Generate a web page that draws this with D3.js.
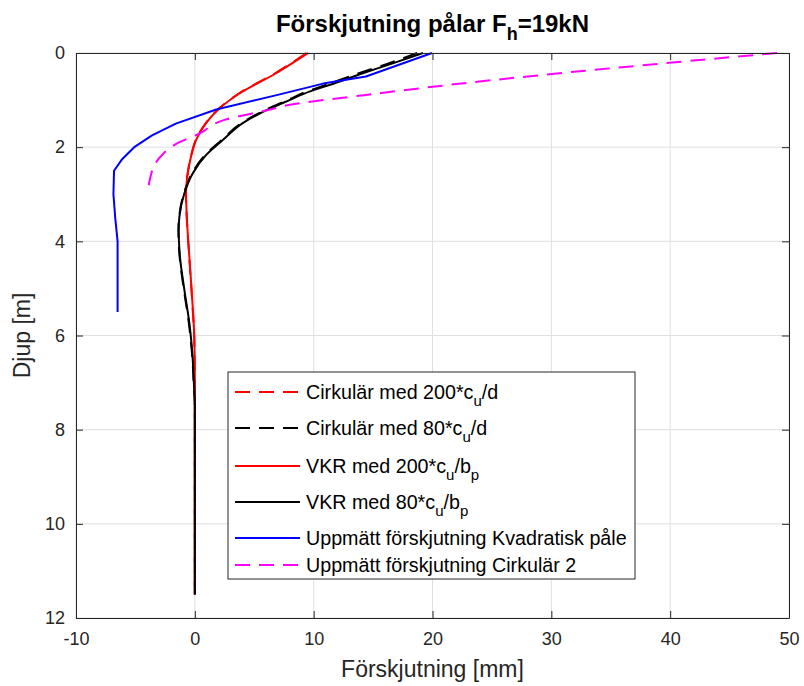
<!DOCTYPE html>
<html>
<head>
<meta charset="utf-8">
<script src="https://cdn.jsdelivr.net/npm/d3@7"></script>
<style>
  body { margin: 0; background: #fff; }
  svg { font-family: "Liberation Sans", Arial, sans-serif; }
</style>
</head>
<body>
<script>
'use strict';

// depth [m] and displacement [mm]
const redDashDepth = [0, 0.2, 0.43, 0.86, 1.18, 1.49, 1.85, 2.2, 2.56, 2.98, 3.55, 4.33, 5.39, 6.06, 7.0, 7.5, 8.5, 9.5, 10.5, 11.5];
const redDashX     = [9.4, 8.2, 6.75, 3.7, 2.02, 0.92, 0.08, -0.33, -0.61, -0.75, -0.67, -0.47, -0.19, -0.05, 0, 0, 0, 0, 0, 0];

const blackDashDepth = [0, 0.22, 0.43, 0.68, 0.82, 1.0, 1.22, 1.49, 1.85, 2.17, 2.56, 2.98, 3.48, 3.76, 4.33, 5.03, 5.74, 6.06, 6.5, 7.0, 7.5, 8.5, 9.5, 10.5, 11.5];
const blackDashX     = [18.7, 16.3, 13.8, 11.0, 9.4, 7.8, 5.85, 3.9, 2.25, 0.85, -0.25, -0.92, -1.32, -1.38, -1.28, -0.92, -0.5, -0.36, -0.2, -0.1, 0, 0, 0, 0, 0];

const redDepth = [0, 0.2, 0.43, 0.86, 1.18, 1.49, 1.85, 2.2, 2.56, 2.98, 3.55, 4.33, 5.39, 6.06, 7.0, 7.5, 8.5, 9.5, 10.5, 11.5];
const redX     = [9.55, 8.3, 6.83, 3.75, 2.06, 0.94, 0.10, -0.32, -0.6, -0.74, -0.66, -0.46, -0.18, -0.04, 0, 0, 0, 0, 0, 0];

const blackDepth = [0, 0.22, 0.43, 0.68, 0.82, 1.0, 1.22, 1.49, 1.85, 2.17, 2.56, 2.98, 3.48, 3.76, 4.33, 5.03, 5.74, 6.06, 6.5, 7.0, 7.5, 8.5, 9.5, 10.5, 11.5];
const blackX     = [19.2, 16.65, 14.13, 11.32, 9.64, 7.96, 5.99, 4.03, 2.35, 0.94, -0.18, -0.88, -1.3, -1.36, -1.25, -0.88, -0.46, -0.32, -0.18, -0.08, 0, 0, 0, 0, 0];

const blueDepth = [0, 0.5, 0.65, 0.9, 1.2, 1.5, 1.75, 2.0, 2.25, 2.5, 3.0, 3.5, 4.0, 5.5];
const blueX     = [19.96, 14.4, 10.8, 6.8, 1.8, -1.6, -3.6, -5.1, -6.1, -6.8, -6.85, -6.7, -6.5, -6.5];

const magentaDepth = [0, 0.66, 0.89, 1.1, 1.22, 1.42, 1.71, 1.92, 2.15, 2.41, 2.65, 2.91];
const magentaX     = [49.0, 22.0, 14.4, 8.0, 6.0, 2.5, 0.4, -1.5, -2.7, -3.45, -3.75, -3.95];

const xTicks = [-10, 0, 10, 20, 30, 40, 50];
const yTicks = [0, 2, 4, 6, 8, 10, 12];

// legend: text before subscript, subscript, text after, second subscript
const series = [
  { name: ['Cirkulär med 200*c', 'u', '/d', ''], depth: redDashDepth, x: redDashX, color: '#ff0000', dash: '15,9', smooth: true },
  { name: ['Cirkulär med 80*c', 'u', '/d', ''], depth: blackDashDepth, x: blackDashX, color: '#000000', dash: '15,9', smooth: true },
  { name: ['VKR med 200*c', 'u', '/b', 'p'], depth: redDepth, x: redX, color: '#ff0000', dash: null, smooth: true },
  { name: ['VKR med 80*c', 'u', '/b', 'p'], depth: blackDepth, x: blackX, color: '#000000', dash: null, smooth: true },
  { name: ['Uppmätt förskjutning Kvadratisk påle', '', '', ''], depth: blueDepth, x: blueX, color: '#0000ff', dash: null, smooth: false },
  { name: ['Uppmätt förskjutning Cirkulär 2', '', '', ''], depth: magentaDepth, x: magentaX, color: '#ff00ff', dash: '15,9', smooth: true }
];

(function() {
  const W = 804, H = 686;
  const mLeft = 76, mRight = 789, mTop = 53, mBottom = 618;
  const axisColor = '#262626';

  const svg = d3.select('body').append('svg')
    .attr('width', W)
    .attr('height', H);

  const xScale = d3.scaleLinear().domain([-10, 50]).range([mLeft, mRight]);
  const yScale = d3.scaleLinear().domain([0, 12]).range([mTop, mBottom]);

  // grid
  svg.append('g').selectAll('line')
    .data(xTicks)
    .enter().append('line')
      .attr('x1', d => xScale(d)).attr('x2', d => xScale(d))
      .attr('y1', mTop).attr('y2', mBottom)
      .attr('stroke', '#dfdfdf').attr('stroke-width', 1);
  svg.append('g').selectAll('line')
    .data(yTicks)
    .enter().append('line')
      .attr('x1', mLeft).attr('x2', mRight)
      .attr('y1', d => yScale(d)).attr('y2', d => yScale(d))
      .attr('stroke', '#dfdfdf').attr('stroke-width', 1);

  // curves
  svg.append('clipPath').attr('id', 'clip')
    .append('rect').attr('x', mLeft).attr('y', mTop - 2)
    .attr('width', mRight - mLeft).attr('height', mBottom - mTop + 2);

  const plot = svg.append('g').attr('clip-path', 'url(#clip)');
  series.forEach(s => {
    const pts = s.depth.map((d, i) => [s.x[i], d]);
    const line = d3.line()
      .x(p => xScale(p[0]))
      .y(p => yScale(p[1]))
      .curve(s.smooth ? d3.curveMonotoneY : d3.curveLinear);
    plot.append('path')
      .attr('d', line(pts))
      .attr('fill', 'none')
      .attr('stroke', s.color)
      .attr('stroke-width', 2)
      .attr('stroke-dasharray', s.dash)
      .attr('stroke-linejoin', 'round');
  });

  // axes (box with inward ticks on all four sides)
  const fmt = d => String(d); // plain hyphen minus like the original
  const xAxisB = d3.axisBottom(xScale).tickValues(xTicks).tickFormat(fmt).tickSizeInner(-7).tickSizeOuter(0).tickPadding(14);
  const xAxisT = d3.axisTop(xScale).tickValues(xTicks).tickSizeInner(-7).tickSizeOuter(0).tickFormat('');
  const yAxisL = d3.axisLeft(yScale).tickValues(yTicks).tickFormat(fmt).tickSizeInner(-7).tickSizeOuter(0).tickPadding(11);
  const yAxisR = d3.axisRight(yScale).tickValues(yTicks).tickSizeInner(-7).tickSizeOuter(0).tickFormat('');

  function styleAxis(g) {
    g.select('.domain').attr('stroke', axisColor);
    g.selectAll('.tick line').attr('stroke', axisColor);
    g.selectAll('.tick text')
      .attr('fill', axisColor)
      .style('font-size', '18px')
      .style('font-family', '"Liberation Sans", Arial, sans-serif');
  }

  svg.append('g').attr('transform', 'translate(0,' + mBottom + ')').call(xAxisB).call(styleAxis);
  svg.append('g').attr('transform', 'translate(0,' + mTop + ')').call(xAxisT).call(styleAxis);
  svg.append('g').attr('transform', 'translate(' + mLeft + ',0)').call(yAxisL).call(styleAxis);
  svg.append('g').attr('transform', 'translate(' + mRight + ',0)').call(yAxisR).call(styleAxis);

  // title
  const title = svg.append('text')
    .attr('x', (mLeft + mRight) / 2)
    .attr('y', 32)
    .attr('text-anchor', 'middle')
    .attr('fill', '#000')
    .style('font-size', '24px')
    .style('font-weight', 'bold');
  title.append('tspan').text('Förskjutning pålar F');
  title.append('tspan').attr('dy', 8).style('font-size', '18px').text('h');
  title.append('tspan').attr('dy', -8).text('=19kN');

  // axis labels
  svg.append('text')
    .attr('x', (mLeft + mRight) / 2)
    .attr('y', 677)
    .attr('text-anchor', 'middle')
    .attr('fill', axisColor)
    .style('font-size', '23px')
    .text('Förskjutning [mm]');

  svg.append('text')
    .attr('transform', 'translate(30,' + ((mTop + mBottom) / 2) + ')rotate(-90)')
    .attr('text-anchor', 'middle')
    .attr('fill', axisColor)
    .style('font-size', '23px')
    .text('Djup [m]');

  // legend
  const lgX = 228, lgY = 372, lgW = 407, lgH = 207;
  const rowY = [392, 428, 466, 502, 538, 565];
  const legend = svg.append('g');
  legend.append('rect')
    .attr('x', lgX).attr('y', lgY)
    .attr('width', lgW).attr('height', lgH)
    .attr('fill', '#fff')
    .attr('stroke', axisColor)
    .attr('stroke-width', 1);

  series.forEach((s, i) => {
    const y = rowY[i];
    legend.append('line')
      .attr('x1', 235).attr('x2', 300)
      .attr('y1', y).attr('y2', y)
      .attr('stroke', s.color)
      .attr('stroke-width', 2)
      .attr('stroke-dasharray', s.dash);
    const t = legend.append('text')
      .attr('x', 306)
      .attr('y', y + 7)
      .attr('fill', '#000')
      .style('font-size', '19.7px');
    t.append('tspan').text(s.name[0]);
    if (s.name[1]) {
      t.append('tspan').attr('dy', 7).style('font-size', '15px').text(s.name[1]);
      t.append('tspan').attr('dy', -7).text(s.name[2]);
    }
    if (s.name[3]) {
      t.append('tspan').attr('dy', 7).style('font-size', '15px').text(s.name[3]);
    }
  });
})();
</script>
</body>
</html>
